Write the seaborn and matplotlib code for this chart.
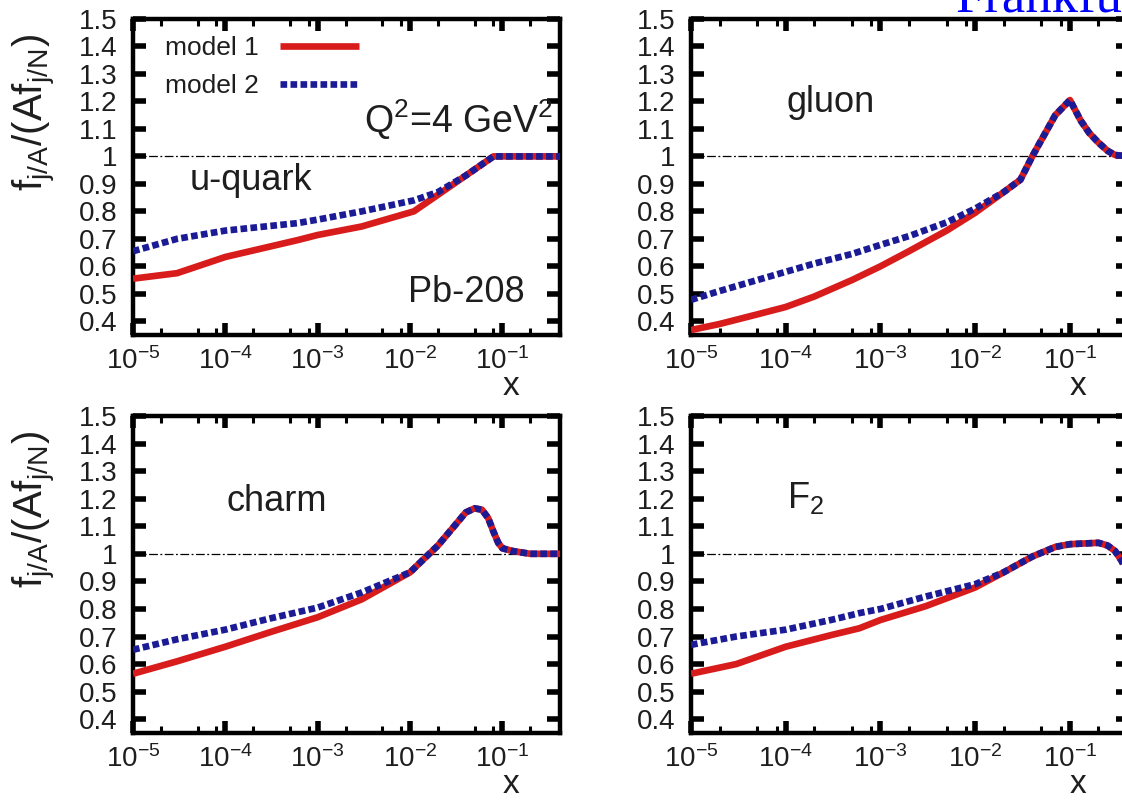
import numpy as np
import pandas as pd
import seaborn as sns
import matplotlib.pyplot as plt
import matplotlib.ticker as mticker

# nuclear modification ratios (Pb-208, Q^2 = 4 GeV^2)
uq_x = [1e-5, 3e-5, 1e-4, 6e-4, 1e-3, 3e-3, 1.1e-2, 2e-2, 4e-2, 8e-2, 0.42]
uq_m1 = [0.555, 0.575, 0.634, 0.695, 0.714, 0.745, 0.80, 0.86, 0.93, 1.0, 1.0]
uq_m2 = [0.655, 0.70, 0.73, 0.757, 0.77, 0.80, 0.84, 0.87, 0.93, 1.0, 1.0]

gl_x = [1e-5, 2e-5, 5e-5, 1e-4, 2e-4, 5e-4, 1e-3, 2e-3, 5e-3, 1e-2, 2e-2, 3e-2,
        4e-2, 5e-2, 7e-2, 1e-1, 1.3e-1, 1.6e-1, 2e-1, 2.5e-1, 3e-1, 0.42]
gl_m1 = [0.368, 0.39, 0.425, 0.452, 0.49, 0.55, 0.60, 0.655, 0.73, 0.795, 0.87, 0.915,
         1.0, 1.06, 1.15, 1.205, 1.13, 1.085, 1.05, 1.02, 1.005, 1.0]
gl_m2 = [0.478, 0.51, 0.55, 0.58, 0.61, 0.645, 0.678, 0.71, 0.76, 0.81, 0.87, 0.915,
         1.0, 1.06, 1.15, 1.205, 1.13, 1.085, 1.05, 1.02, 1.005, 1.0]

ch_x = [1e-5, 3e-5, 1e-4, 3e-4, 1e-3, 3e-3, 1e-2, 1.5e-2, 2e-2, 3e-2, 4e-2, 5e-2,
        6e-2, 7e-2, 8e-2, 9e-2, 1e-1, 1.3e-1, 2e-1, 0.42]
ch_m1 = [0.565, 0.61, 0.663, 0.715, 0.77, 0.835, 0.933, 0.99, 1.03, 1.10, 1.15, 1.165,
         1.16, 1.13, 1.08, 1.04, 1.02, 1.01, 1.0, 1.0]
ch_m2 = [0.652, 0.69, 0.725, 0.765, 0.805, 0.86, 0.933, 0.99, 1.03, 1.10, 1.15, 1.165,
         1.16, 1.13, 1.08, 1.04, 1.02, 1.01, 1.0, 1.0]

f2_x = [1e-5, 3e-5, 1e-4, 3e-4, 6e-4, 1e-3, 3e-3, 1e-2, 2e-2, 4e-2, 7e-2, 1e-1,
        2e-1, 2.5e-1, 3e-1, 0.35, 0.42]
f2_m1 = [0.565, 0.60, 0.663, 0.705, 0.73, 0.76, 0.81, 0.878, 0.933, 0.99, 1.025, 1.035,
         1.04, 1.03, 1.01, 0.975, 0.92]
f2_m2 = [0.67, 0.70, 0.725, 0.76, 0.785, 0.80, 0.845, 0.89, 0.933, 0.99, 1.025, 1.035,
         1.04, 1.03, 1.01, 0.975, 0.92]

y_ticks = [0.4, 0.5, 0.6, 0.7, 0.8, 0.9, 1.0, 1.1, 1.2, 1.3, 1.4, 1.5]
legend_labels = ["model 1", "model 2"]

sns.set_style("ticks")
plt.rcParams['font.family'] = ['Liberation Sans', 'DejaVu Sans']
plt.rcParams['mathtext.fontset'] = 'custom'
plt.rcParams['mathtext.rm'] = 'Liberation Sans'
plt.rcParams['mathtext.it'] = 'Liberation Sans'
plt.rcParams['text.color'] = '#1e1e1e'
plt.rcParams['xtick.color'] = 'black'
plt.rcParams['ytick.color'] = 'black'
plt.rcParams['xtick.labelcolor'] = '#1e1e1e'
plt.rcParams['ytick.labelcolor'] = '#1e1e1e'

RED = '#d81c1c'
BLUE = '#1b1b96'
W, H = 1122, 800

fig = plt.figure(figsize=(11.22, 8), dpi=100)


def make_axes(l, t, r, b):
    return fig.add_axes([l / W, 1 - b / H, (r - l) / W, (b - t) / H])


def style_axes(ax, ylab):
    ax.set_xscale('log')
    ax.set_xlim(1e-5, 0.42)
    ax.set_ylim(0.35, 1.5)
    ax.xaxis.set_major_locator(mticker.LogLocator(base=10, numticks=10))
    ax.xaxis.set_minor_locator(mticker.LogLocator(base=10, subs=[2, 5, 8], numticks=30))
    ax.xaxis.set_minor_formatter(mticker.NullFormatter())
    ax.yaxis.set_major_locator(mticker.FixedLocator(y_ticks))
    ax.yaxis.set_major_formatter(mticker.FuncFormatter(lambda v, p: f"{v:g}"))
    ax.yaxis.set_minor_locator(mticker.NullLocator())
    ax.tick_params(which='both', direction='in', top=True, right=True, labelsize=20)
    ax.tick_params(axis='y', which='major', length=9.5, width=4, pad=11)
    ax.tick_params(axis='x', which='major', length=8.5, width=4, pad=9)
    ax.tick_params(axis='x', which='minor', length=5, width=2.2)
    for s in ax.spines.values():
        s.set_linewidth(3.2)
        s.set_color('black')
    ax.axhline(1.0, color='black', lw=0.9, dashes=(7, 2, 1.5, 2), zorder=1)
    # axis name "x" sits under the 10^-1 label, as in the original
    ax.text(0.885, -0.19, r'$x$', transform=ax.transAxes, ha='center',
            va='baseline', fontsize=24)
    if ylab:
        ax.text(-0.23, 0.705, r"f$_{j/A}$/(Af$_{j/N}$)", transform=ax.transAxes,
                rotation=90, ha='center', va='center', fontsize=29)


def draw(ax, xs, m1, m2):
    sns.lineplot(x=xs, y=m1, ax=ax, color=RED, lw=4.8, sort=False,
                 estimator=None, solid_capstyle='butt', zorder=3)
    sns.lineplot(x=xs, y=m2, ax=ax, color=BLUE, lw=4.8, sort=False,
                 estimator=None, linestyle=(0, (1, 0.5)),
                 dash_capstyle='butt', zorder=4)
    return ax.get_lines()[-2:]


ax1 = make_axes(133, 19, 560, 335)
ax2 = make_axes(691, 19, 1129, 335)
ax3 = make_axes(133, 416, 560, 733)
ax4 = make_axes(691, 416, 1129, 733)

lines = draw(ax1, uq_x, uq_m1, uq_m2)
draw(ax2, gl_x, gl_m1, gl_m2)
draw(ax3, ch_x, ch_m1, ch_m2)
draw(ax4, f2_x, f2_m1, f2_m2)

for ax, ylab in [(ax1, True), (ax2, False), (ax3, True), (ax4, False)]:
    style_axes(ax, ylab)
    ax.set_xlabel('')
    ax.set_ylabel('')

ax1.legend(handles=lines, labels=legend_labels, loc='upper left',
           bbox_to_anchor=(0.075, 0.945), frameon=False, markerfirst=False,
           fontsize=19, handlelength=3.0, handletextpad=0.8,
           borderaxespad=0, borderpad=0, labelspacing=0.52)

ax1.text(0.984, 0.639, r"Q$^2$=4 GeV$^2$", transform=ax1.transAxes,
         ha='right', va='baseline', fontsize=27)
ax1.text(0.133, 0.46, "u-quark", transform=ax1.transAxes,
         ha='left', va='baseline', fontsize=26)
ax1.text(0.916, 0.104, "Pb-208", transform=ax1.transAxes,
         ha='right', va='baseline', fontsize=26)
ax2.text(0.217, 0.706, "gluon", transform=ax2.transAxes,
         ha='left', va='baseline', fontsize=26)
ax3.text(0.218, 0.70, "charm", transform=ax3.transAxes,
         ha='left', va='baseline', fontsize=26)
ax4.text(0.219, 0.71, r"F$_2$", transform=ax4.transAxes,
         ha='left', va='baseline', fontsize=26)

fig.text(955 / W, 1 - 11 / H, "Frankfurt", color='#0000ff',
         family='Liberation Serif', fontsize=38, ha='left', va='baseline')

plt.savefig("out.png", dpi=100)
